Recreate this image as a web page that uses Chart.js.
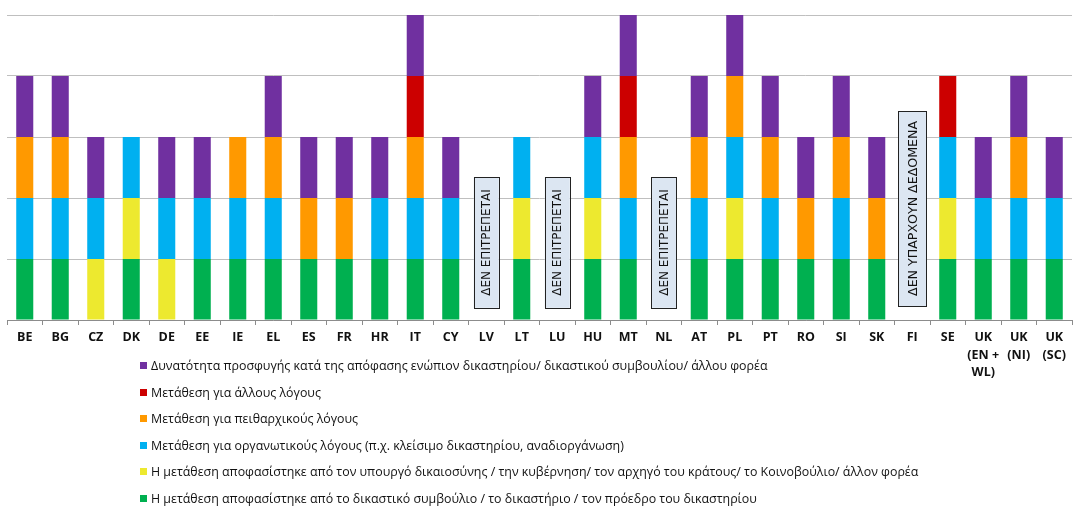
<!DOCTYPE html>
<html>
<head>
<meta charset="utf-8">
<script src="https://cdn.jsdelivr.net/npm/chart.js@4"></script>
<style>
    html, body { margin: 0; padding: 0; background: #fff; }
    #wrap { position: relative; width: 1085px; height: 528px; }
    #wrap canvas { position: absolute; left: 0; top: 0; }
    #legend { position: absolute; left: 140px; top: 354px; font-family: "Open Sans", sans-serif; font-size: 12.4px; color: #111; }
    #legend div { height: 26.6px; line-height: 24px; white-space: nowrap; }
    #legend span { display: inline-block; width: 7px; height: 7px; margin-right: 4px; vertical-align: 1px; }
</style>
</head>
<body>
<div id="wrap">
    <canvas id="chart" width="1085" height="528"></canvas>
    <div id="legend"></div>
</div>
<script>
const countries = ["BE", "BG", "CZ", "DK", "DE", "EE", "IE", "EL", "ES", "FR", "HR", "IT", "CY", "LV", "LT", "LU",
    "HU", "MT", "NL", "AT", "PL", "PT", "RO", "SI", "SK", "FI", "SE", ["UK", "(EN +", "WL)"], ["UK", "(NI)"], ["UK", "(SC)"]];

// 1 = applies, 0 = not, bottom of the stack first
const byCourt     = [1,1,0,1,0,1,1,1,1,1,1,1,1,0,1,0,1,1,0,1,1,1,1,1,1,0,1,1,1,1];
const byMinister  = [0,0,1,1,1,0,0,0,0,0,0,0,0,0,1,0,1,0,0,0,1,0,0,0,0,0,1,0,0,0];
const organisational = [1,1,1,1,1,1,1,1,0,0,1,1,1,0,1,0,1,1,0,1,1,1,0,1,0,0,1,1,1,1];
const disciplinary = [1,1,0,0,0,0,1,1,1,1,0,1,0,0,0,0,0,1,0,1,1,1,1,1,1,0,0,0,1,0];
const otherReasons = [0,0,0,0,0,0,0,0,0,0,0,1,0,0,0,0,0,1,0,0,0,0,0,0,0,0,1,0,0,0];
const appeal      = [1,1,1,0,1,1,0,1,1,1,1,1,1,0,0,0,1,1,0,1,1,1,1,1,1,0,0,1,1,1];

const seriesNames = [
    "Η μετάθεση αποφασίστηκε από το δικαστικό συμβούλιο / το δικαστήριο / τον πρόεδρο του δικαστηρίου",
    "Η μετάθεση αποφασίστηκε από τον υπουργό δικαιοσύνης / την κυβέρνηση/ τον αρχηγό του κράτους/ το Κοινοβούλιο/ άλλον φορέα",
    "Μετάθεση για οργανωτικούς λόγους (π.χ. κλείσιμο δικαστηρίου, αναδιοργάνωση)",
    "Μετάθεση για πειθαρχικούς λόγους",
    "Μετάθεση για άλλους λόγους",
    "Δυνατότητα προσφυγής κατά της απόφασης ενώπιον δικαστηρίου/ δικαστικού συμβουλίου/ άλλου φορέα"
];
const seriesColors = ["#00b050", "#ede92f", "#00b0f0", "#ff9900", "#cc0000", "#7030a0"];

const notes = [
    { country: "LV", text: "ΔΕΝ ΕΠΙΤΡΕΠΕΤΑΙ" },
    { country: "LU", text: "ΔΕΝ ΕΠΙΤΡΕΠΕΤΑΙ" },
    { country: "NL", text: "ΔΕΝ ΕΠΙΤΡΕΠΕΤΑΙ" },
    { country: "FI", text: "ΔΕΝ ΥΠΑΡΧΟΥΝ ΔΕΔΟΜΕΝΑ" }
];

const allData = [byCourt, byMinister, organisational, disciplinary, otherReasons, appeal];

// boxes with vertical text for countries without bars
const notesPlugin = {
    id: "notes",
    afterDatasetsDraw(chart) {
        const ctx = chart.ctx;
        const x = chart.scales.x, y = chart.scales.y;
        ctx.save();
        notes.forEach(n => {
            const big = n.text.length > 16;
            ctx.font = (big ? 12.6 : 12) + "px 'DejaVu Sans', sans-serif";
            const idx = countries.indexOf(n.country);
            const cx = x.getPixelForValue(idx);
            const w = ctx.measureText(n.text).width;
            const bottom = y.getPixelForValue(big ? 0.23 : 0.2);
            const h = w + (big ? 20 : 24);
            const bw = big ? 28 : 25;
            ctx.fillStyle = "#dce6f2";
            ctx.strokeStyle = "#222";
            ctx.lineWidth = 1;
            ctx.fillRect(cx - bw / 2, bottom - h, bw, h);
            ctx.strokeRect(Math.round(cx - bw / 2) + 0.5, Math.round(bottom - h) + 0.5, bw, Math.round(h));
            ctx.translate(cx, bottom - h / 2);
            ctx.rotate(-Math.PI / 2);
            ctx.fillStyle = "#111";
            ctx.textAlign = "center";
            ctx.textBaseline = "middle";
            ctx.fillText(n.text, 0, 1);
            ctx.setTransform(1, 0, 0, 1, 0, 0);
        });
        ctx.restore();
    }
};

function onLoad() {
    const legend = document.getElementById("legend");
    for (let i = seriesNames.length - 1; i >= 0; i--) {
        legend.innerHTML += '<div><span style="background:' + seriesColors[i] + '"></span>' + seriesNames[i] + '</div>';
    }

    const ctx = document.getElementById("chart");
    new Chart(ctx, {
        type: 'bar',
        data: {
            labels: countries,
            datasets: seriesNames.map((name, i) => ({
                label: name,
                data: allData[i],
                backgroundColor: seriesColors[i],
                borderWidth: 0,
                barPercentage: 0.48,
                categoryPercentage: 1
            }))
        },
        options: {
            responsive: false,
            animation: false,
            layout: { padding: { left: 7, right: 13, top: 15, bottom: 0 } },
            plugins: { legend: { display: false }, tooltip: { enabled: false } },
            scales: {
                x: {
                    stacked: true,
                    grid: { drawOnChartArea: false, drawTicks: true, tickLength: 5, color: "#8c8c8c" },
                    border: { color: "#8c8c8c" },
                    ticks: {
                        autoSkip: false, maxRotation: 0, padding: 4, color: "#111",
                        font: { family: "'Open Sans', sans-serif", size: 12.5, weight: "bold", lineHeight: 1.4 }
                    },
                    afterFit: s => { s.height = 208; }
                },
                y: {
                    stacked: true, min: 0, max: 5,
                    ticks: { display: false, stepSize: 1 },
                    grid: { color: "#bfbfbf", drawTicks: false },
                    border: { display: false },
                    afterFit: s => { s.width = 0; }
                }
            }
        },
        plugins: [notesPlugin]
    });
}
onLoad();
</script>
</body>
</html>
